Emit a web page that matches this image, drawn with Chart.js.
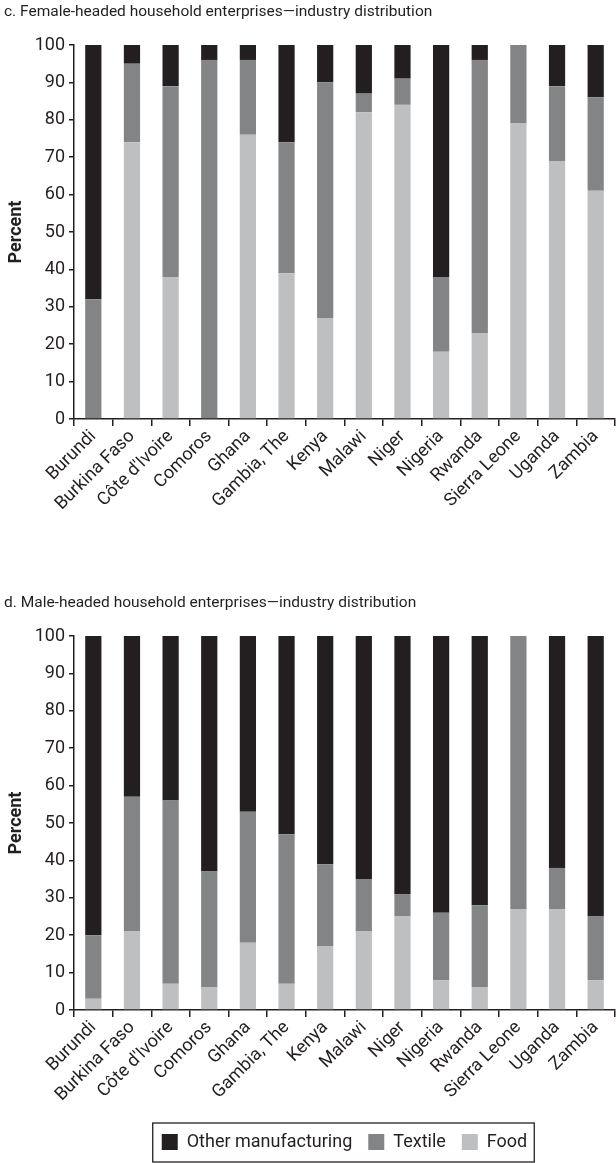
<!DOCTYPE html>
<html>
<head>
<meta charset="utf-8">
<script src="https://cdn.jsdelivr.net/npm/chart.js@4/dist/chart.umd.min.js"></script>
<style>
  body { margin: 0; background: #fff; width: 616px; height: 1163px; position: relative; overflow: hidden; }
  .wrap { position: absolute; left: 0; width: 616px; }
</style>
</head>
<body>
<div class="wrap" style="top:0;height:525px"><canvas id="femaleChart"></canvas></div>
<div class="wrap" style="top:591px;height:572px"><canvas id="maleChart"></canvas></div>
<script>
// data block
const countries = ['Burundi', 'Burkina Faso', "Côte d'Ivoire", 'Comoros', 'Ghana', 'Gambia, The', 'Kenya',
    'Malawi', 'Niger', 'Nigeria', 'Rwanda', 'Sierra Leone', 'Uganda', 'Zambia'];

// c. female-headed enterprises (percent)
const femaleFood    = [0, 74, 38, 0, 76, 39, 27, 82, 84, 18, 23, 79, 69, 61];
const femaleTextile = [32, 21, 51, 96, 20, 35, 63, 5, 7, 20, 73, 21, 20, 25];
const femaleOther   = [68, 5, 11, 4, 4, 26, 10, 13, 9, 62, 4, 0, 11, 14];

// d. male-headed enterprises (percent)
const maleFood    = [3, 21, 7, 6, 18, 7, 17, 21, 25, 8, 6, 27, 27, 8];
const maleTextile = [17, 36, 49, 31, 35, 40, 22, 14, 6, 18, 22, 73, 11, 17];
const maleOther   = [80, 43, 44, 63, 47, 53, 61, 65, 69, 74, 72, 0, 62, 75];

const yTicks = [0, 10, 20, 30, 40, 50, 60, 70, 80, 90, 100];

const ink = '#231f20';
const sans = "Roboto, 'Liberation Sans', sans-serif";

// box drawn round the legend, like the printed figure
const legendFrame = {
    id: 'legendFrame',
    afterDraw(chart) {
        const lg = chart.legend;
        if (!lg || !lg.options.display || !lg.legendHitBoxes.length) return;
        const hb = lg.legendHitBoxes;
        const left = Math.min(...hb.map(h => h.left)) - 9;
        const right = Math.max(...hb.map(h => h.left + h.width)) + 7;
        const top = hb[0].top - 10;
        const bottom = hb[0].top + hb[0].height + 11;
        const c = chart.ctx;
        c.save();
        c.strokeStyle = ink;
        c.lineWidth = 1.3;
        c.strokeRect(left, top, right - left, bottom - top);
        c.restore();
    }
};

function makeConfig(titleText, food, textile, other, withLegend, xHeight) {
    return {
        type: 'bar',
        data: {
            labels: countries,
            datasets: [
                { label: 'Food', data: food, backgroundColor: '#bebfc1' },
                { label: 'Textile', data: textile, backgroundColor: '#838485' },
                { label: 'Other manufacturing', data: other, backgroundColor: ink }
            ]
        },
        options: {
            responsive: true,
            maintainAspectRatio: false,
            animation: false,
            barPercentage: 0.42,
            categoryPercentage: 1,
            layout: { padding: { left: 4, right: 1, top: 0, bottom: withLegend ? 2 : 0 } },
            plugins: {
                tooltip: { enabled: false },
                title: {
                    display: true,
                    text: titleText,
                    align: 'start',
                    color: ink,
                    font: { family: sans, size: 15.5, weight: 'normal' },
                    padding: { top: 3, bottom: 23.4 }
                },
                legend: {
                    display: withLegend,
                    position: 'bottom',
                    fullSize: false,
                    reverse: true,
                    labels: {
                        boxWidth: 16,
                        boxHeight: 16,
                        padding: 16,
                        color: ink,
                        font: { family: sans, size: 18 }
                    }
                }
            },
            scales: {
                x: {
                    stacked: true,
                    grid: { offset: true, drawOnChartArea: false, drawTicks: true, tickLength: 7, color: ink, lineWidth: 1.5 },
                    border: { display: true, color: ink, width: 1.5 },
                    ticks: {
                        autoSkip: false, maxRotation: 45, minRotation: 45, padding: 0,
                        color: ink, font: { family: sans, size: 18 }
                    },
                    afterFit: s => { s.height = xHeight; }
                },
                y: {
                    stacked: true,
                    min: 0,
                    max: 100,
                    afterBuildTicks: s => { s.ticks = yTicks.map(v => ({ value: v })); },
                    grid: { drawOnChartArea: false, drawTicks: true, tickLength: 5, color: ink, lineWidth: 1.5 },
                    border: { display: true, color: ink, width: 1.5 },
                    ticks: { color: ink, padding: 4, font: { family: sans, size: 18 } },
                    title: {
                        display: true, text: 'Percent', color: ink,
                        font: { family: sans, size: 18, weight: 'bold' },
                        padding: { top: 2, bottom: 0 }
                    },
                    afterFit: s => { s.width = 70; }
                }
            }
        },
        plugins: [legendFrame]
    };
}

const femaleChart = new Chart(
    document.getElementById('femaleChart'),
    makeConfig('c. Female-headed household enterprises\u2014industry distribution',
        femaleFood, femaleTextile, femaleOther, false, 106)
);

const maleChart = new Chart(
    document.getElementById('maleChart'),
    makeConfig('d. Male-headed household enterprises\u2014industry distribution',
        maleFood, maleTextile, maleOther, true, 107)
);
</script>
</body>
</html>
